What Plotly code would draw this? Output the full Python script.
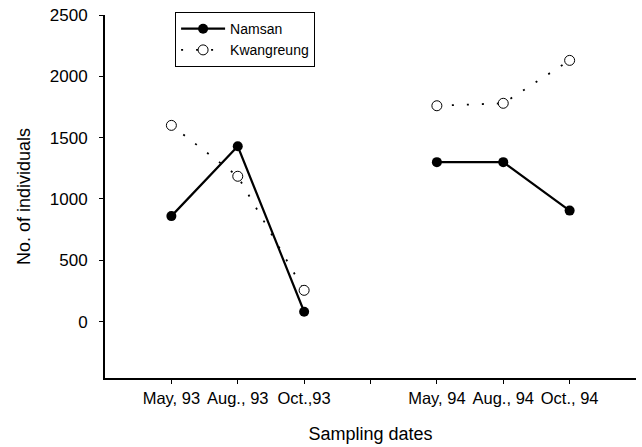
import plotly.graph_objects as go

dates = ["May, 93", "Aug., 93", "Oct.,93", "", "May, 94", "Aug., 94", "Oct., 94"]
positions = [1, 2, 3, 4, 5, 6, 7]

namsan_x = [1, 2, 3, None, 5, 6, 7]
namsan = [860, 1430, 80, None, 1300, 1300, 905]
kwang = [1600, 1185, 255, None, 1760, 1780, 2130]

font = "Liberation Sans, Arial, sans-serif"

fig = go.Figure()
fig.add_trace(go.Scatter(
    x=namsan_x, y=namsan, name="Namsan", mode="lines+markers",
    line=dict(color="black", width=2.2),
    marker=dict(symbol="circle", size=10, color="black"),
    connectgaps=False,
))
fig.add_trace(go.Scatter(
    x=namsan_x, y=kwang, name="Kwangreung", mode="lines+markers",
    line=dict(color="black", width=1.8, dash="2px,13px"),
    marker=dict(symbol="circle", size=10, color="white", line=dict(width=1, color="black")),
    connectgaps=False,
))

fig.update_layout(
    width=642, height=447,
    margin=dict(l=105, r=6, t=15, b=69),
    paper_bgcolor="white", plot_bgcolor="white",
    font=dict(family=font, color="black", size=14),
    showlegend=True,
    legend=dict(
        x=0.132, y=1.008, xanchor="left", yanchor="top",
        bordercolor="black", borderwidth=1, bgcolor="white",
        font=dict(size=14), tracegroupgap=0, itemwidth=44,
    ),
    xaxis=dict(
        range=[0, 8], tickvals=positions, ticktext=dates,
        showline=True, linecolor="black", linewidth=2,
        ticks="outside", ticklen=4, tickcolor="black", tickwidth=1,
        showgrid=False, zeroline=False, automargin=False,
        tickfont=dict(size=16.5),
        title=dict(text="Sampling dates", font=dict(size=18), standoff=22),
    ),
    yaxis=dict(
        range=[-460, 2500], tickvals=[0, 500, 1000, 1500, 2000, 2500],
        showline=True, linecolor="black", linewidth=2,
        ticks="outside", ticklen=4, tickcolor="black", tickwidth=1,
        showgrid=False, zeroline=False, automargin=False,
        tickfont=dict(size=17), ticklabelstandoff=8,
        title=dict(text="No. of individuals", font=dict(size=18), standoff=14),
    ),
)

fig.write_html(
    "out.html",
    config={"displayModeBar": False},
    post_script="document.body.style.margin='0px';document.body.style.overflow='hidden';",
)
